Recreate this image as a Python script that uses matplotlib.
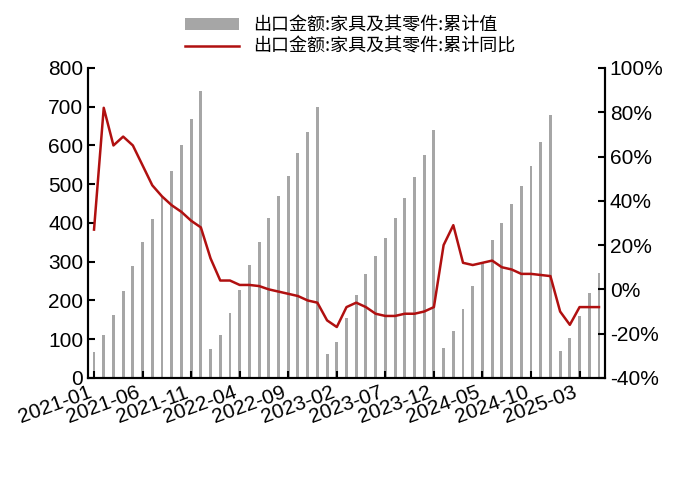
import matplotlib
matplotlib.use("Agg")
import matplotlib.pyplot as plt
import numpy as np

plt.rcParams['font.family'] = ['Noto Sans CJK SC', 'DejaVu Sans']

months = [f"{y}-{m:02d}" for y in range(2021, 2026) for m in range(1, 13)][:53]
values = [68,110,162,225,290,350,410,470,535,600,668,740,
          75,112,168,228,292,352,412,470,520,580,635,698,
          62,92,155,215,268,315,362,412,465,518,575,640,
          78,120,178,238,298,355,400,450,495,548,610,678,
          70,102,160,218,272]
yoy = [27,82,65,69,65,56,47,42,38,35,31,28,
       14,4,4,2,2,1.5,0,-1,-2,-3,-5,-6,
       -14,-17,-8,-6,-8,-11,-12,-12,-11,-11,-10,-8,
       20,29,12,11,12,13,10,9,7,7,6.5,6,
       -10,-16,-8,-8,-8]

fig = plt.figure(figsize=(7, 4.96), dpi=100)
ax = fig.add_axes([0.126, 0.238, 0.738, 0.625])
x = np.arange(len(months))
ax.bar(x, values, width=0.3, color='#a6a6a6', label='出口金额:家具及其零件:累计值')
ax.set_ylim(0, 800)
ax.set_xlim(-0.6, len(months) - 0.4)
ax.set_yticks(range(0, 801, 100))
ax2 = ax.twinx()
ax2.plot(x, yoy, color='#b01010', lw=1.8, label='出口金额:家具及其零件:累计同比')
ax2.set_ylim(-40, 100)
ax2.set_yticks(range(-40, 101, 20))
ax2.set_yticklabels([f"{v}%" for v in range(-40, 101, 20)])
ax.set_xticks(x[::5])
ax.set_xticklabels(months[::5], rotation=20, ha='right')
for a in (ax, ax2):
    a.tick_params(labelsize=15, direction='in', width=1.5, length=5)
    for lab in a.get_xticklabels() + a.get_yticklabels():
        lab.set_family('Liberation Sans')
    a.spines['top'].set_visible(False)
    for s in ['left', 'right', 'bottom']:
        a.spines[s].set_linewidth(1.5)
h1, l1 = ax.get_legend_handles_labels()
h2, l2 = ax2.get_legend_handles_labels()
fig.legend(h1 + h2, l1 + l2, loc='upper center', bbox_to_anchor=(0.5, 1.0),
           frameon=False, fontsize=13, handlelength=3, labelspacing=0.2)
fig.savefig("out.png")
